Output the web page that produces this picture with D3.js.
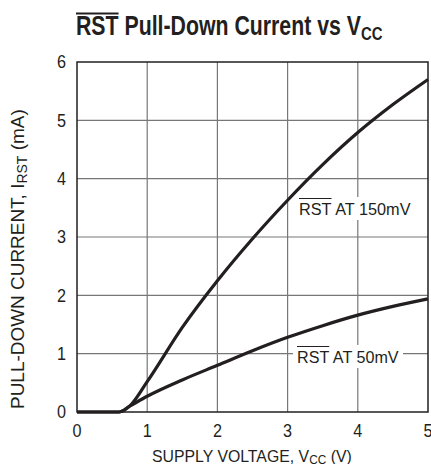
<!DOCTYPE html>
<html><head><meta charset="utf-8">
<script src="https://cdn.jsdelivr.net/npm/d3@7"></script>
<style>
body{margin:0;background:#fff;}
text{font-family:"Liberation Sans",Arial,sans-serif;fill:#231f20;}
</style></head><body>
<svg id="c" width="431" height="464"></svg>
<script>
const xTicks=[0,1,2,3,4,5];
const yTicks=[0,1,2,3,4,5,6];
const vcc150=[0,0.6,0.75,1,1.5,2,2.5,3,3.5,4,4.5,5];
const i150=[0,0,0.1,0.52,1.45,2.25,2.97,3.63,4.24,4.79,5.27,5.7];
const vcc50=[0,0.6,0.75,1,1.5,2,2.5,3,3.5,4,4.5,5];
const i50=[0,0,0.1,0.27,0.55,0.8,1.05,1.28,1.48,1.66,1.81,1.94];
const labels=["150mV","50mV"];

const svg=d3.select("#c");
const x=d3.scaleLinear().domain([0,5]).range([77,428]);
const y=d3.scaleLinear().domain([0,6]).range([412,62]);

function squeeze(t,x0,s){
  t.attr("transform",`translate(${x0},0) scale(${s},1) translate(${-x0},0)`);
}

// grid
const g=svg.append("g");
g.selectAll(".vx").data(xTicks.slice(1,-1)).enter().append("line")
 .attr("x1",d=>x(d)).attr("x2",d=>x(d)).attr("y1",y(6)).attr("y2",y(0))
 .attr("stroke","#777").attr("stroke-width",1.2);
g.selectAll(".hy").data(yTicks.slice(1,-1)).enter().append("line")
 .attr("y1",d=>y(d)).attr("y2",d=>y(d)).attr("x1",x(0)).attr("x2",x(5))
 .attr("stroke","#777").attr("stroke-width",1.2);

function labelAt(x0,baseline,mv,target){
  const t=svg.append("text").attr("x",x0).attr("y",baseline).attr("font-size",17);
  const r=t.append("tspan").text("RST");
  t.append("tspan").text(" AT "+mv);
  const bb=t.node().getBBox();
  const s=target/bb.width;
  squeeze(t,x0,s);
  const rw=r.node().getComputedTextLength()*s;
  svg.insert("rect",()=>t.node()).attr("x",x0-4).attr("y",bb.y-3).attr("width",target+8).attr("height",bb.height+4).attr("fill","#fff");
  svg.append("line").attr("x1",x0).attr("x2",x0+rw).attr("y1",baseline-16.5).attr("y2",baseline-16.5).attr("stroke","#231f20").attr("stroke-width",1);
}
labelAt(299,215,labels[0],112);
labelAt(297,363,labels[1],102);

// border
svg.append("rect").attr("x",x(0)).attr("y",y(6)).attr("width",x(5)-x(0)).attr("height",y(0)-y(6))
 .attr("fill","none").attr("stroke","#231f20").attr("stroke-width",1.5);

// curves
const line=d3.line().x(d=>x(d[0])).y(d=>y(d[1])).curve(d3.curveMonotoneX);
svg.append("path").attr("d",line(vcc50.map((v,i)=>[v,i50[i]]))).attr("fill","none").attr("stroke","#231f20").attr("stroke-width",3.2);
svg.append("path").attr("d",line(vcc150.map((v,i)=>[v,i150[i]]))).attr("fill","none").attr("stroke","#231f20").attr("stroke-width",3.2);

// tick labels
svg.selectAll(".xt").data(xTicks).enter().append("text").attr("x",d=>x(d)).attr("y",437)
 .attr("text-anchor","middle").attr("font-size",18).text(d=>d)
 .attr("transform",d=>`translate(${x(d)},0) scale(0.9,1) translate(${-x(d)},0)`);
svg.selectAll(".yt").data(yTicks).enter().append("text").attr("x",66).attr("y",d=>y(d)+6.5)
 .attr("text-anchor","end").attr("font-size",18).text(d=>d)
 .attr("transform",`translate(66,0) scale(0.9,1) translate(-66,0)`);

// x axis title
const xt=svg.append("text").attr("x",152).attr("y",462).attr("font-size",16);
xt.append("tspan").text("SUPPLY VOLTAGE, V");
xt.append("tspan").attr("font-size",12).attr("dy",2).text("CC");
xt.append("tspan").attr("dy",-2).text(" (V)");
squeeze(xt,152,200/xt.node().getBBox().width);

// y axis title
const yt=svg.append("text").attr("x",0).attr("y",0).attr("font-size",19);
yt.append("tspan").text("PULL-DOWN CURRENT, I");
yt.append("tspan").attr("font-size",14).attr("dy",2.5).text("RST");
yt.append("tspan").attr("dy",-2.5).text(" (mA)");
const ys=300/yt.node().getBBox().width;
yt.attr("transform",`translate(24,409) rotate(-90) scale(${ys},1)`);

// title
const tt=svg.append("text").attr("x",76).attr("y",35).attr("font-size",27).attr("font-weight","bold");
const tr=tt.append("tspan").text("RST");
tt.append("tspan").text(" Pull-Down Current vs V");
tt.append("tspan").attr("font-size",19).attr("dy",5).text("CC");
const ts=307/tt.node().getBBox().width;
squeeze(tt,76,ts);
const trw=tr.node().getComputedTextLength()*ts;
svg.append("line").attr("x1",76).attr("x2",76+trw).attr("y1",13.5).attr("y2",13.5).attr("stroke","#231f20").attr("stroke-width",2);
</script></body></html>
